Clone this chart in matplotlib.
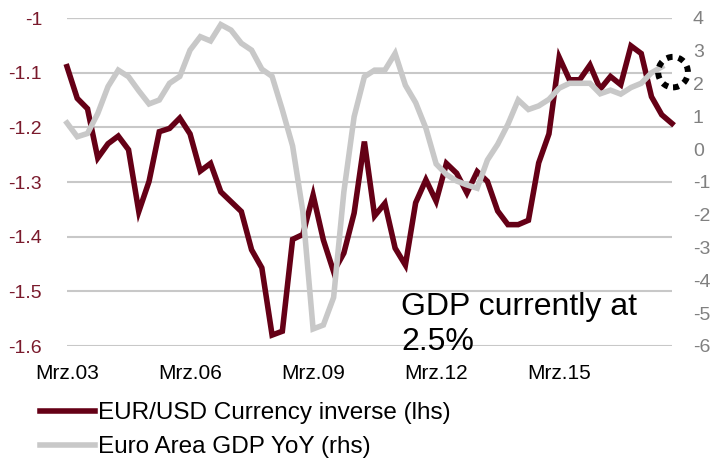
import matplotlib
matplotlib.use('Agg')
import matplotlib.pyplot as plt
import numpy as np
from matplotlib.patches import Ellipse
from matplotlib.lines import Line2D

plt.rcParams['font.family'] = ['Liberation Sans', 'DejaVu Sans']

# ---- data (quarterly, Mar 2003 .. Dec 2017) ----
eurusd_inverse = [
    -1.089, -1.147, -1.166, -1.256, -1.230, -1.216, -1.241, -1.354, -1.299, -1.208,
    -1.202, -1.183, -1.212, -1.280, -1.266, -1.318, -1.336, -1.354, -1.424, -1.457,
    -1.580, -1.573, -1.405, -1.396, -1.324, -1.406, -1.464, -1.430, -1.357, -1.226,
    -1.362, -1.339, -1.421, -1.452, -1.338, -1.296, -1.335, -1.266, -1.284, -1.320,
    -1.281, -1.299, -1.353, -1.378, -1.378, -1.370, -1.265, -1.212, -1.072, -1.113,
    -1.113, -1.086, -1.130, -1.107, -1.122, -1.051, -1.065, -1.144, -1.177, -1.193,
]
gdp_yoy = [
    0.80, 0.38, 0.48, 1.09, 1.91, 2.41, 2.21, 1.78, 1.38, 1.50,
    2.01, 2.22, 3.02, 3.43, 3.30, 3.80, 3.63, 3.23, 3.02, 2.44,
    2.22, 1.20, 0.10, -1.90, -5.48, -5.36, -4.52, -1.30, 0.99, 2.21,
    2.41, 2.41, 2.92, 1.95, 1.42, 0.64, -0.45, -0.77, -0.97, -1.09,
    -1.19, -0.33, 0.15, 0.76, 1.50, 1.21, 1.32, 1.52, 1.86, 2.01,
    2.01, 2.01, 1.69, 1.80, 1.68, 1.88, 2.01, 2.33, 2.51,
]
xtick_pos = [0, 12, 24, 36, 48]
xtick_labels = ['Mrz.03', 'Mrz.06', 'Mrz.09', 'Mrz.12', 'Mrz.15']
left_ticks = [-1.6, -1.5, -1.4, -1.3, -1.2, -1.1, -1.0]
left_labels = ['-1.6', '-1.5', '-1.4', '-1.3', '-1.2', '-1.1', '-1']
right_ticks = [-6, -5, -4, -3, -2, -1, 0, 1, 2, 3, 4]
series_labels = ['EUR/USD Currency inverse (lhs)', 'Euro Area GDP YoY (rhs)']
annotation = 'GDP currently at\n2.5%'

MAROON = '#650016'
GREY = '#c8c8c8'

W, H = 724, 461
fig = plt.figure(figsize=(W / 100, H / 100), dpi=100)
ax = fig.add_axes([67 / W, 1 - 346 / H, (672 - 67) / W, (346 - 18) / H])
ax2 = ax.twinx()

ax.set_xlim(0, 59)
ax.set_ylim(-1.6, -1.0)
ax2.set_ylim(-6, 4)

for a in (ax, ax2):
    for s in a.spines.values():
        s.set_visible(False)

ax.set_yticks(left_ticks)
ax.set_yticklabels(left_labels)
ax.grid(axis='y', color=GREY, lw=1.5)
ax.set_axisbelow(True)
ax.axhline(-1.0, color='#9a9a9a', lw=1.5, zorder=0.5)

ax.tick_params(axis='y', length=0, pad=18, labelsize=14, labelcolor='#7a1a2c')
ax.set_xticks(xtick_pos)
ax.set_xticklabels(xtick_labels)
ax.tick_params(axis='x', length=0, pad=13, labelsize=15, labelcolor='black')

ax2.set_yticks(right_ticks)
ax2.set_yticklabels([str(t) for t in right_ticks])
ax2.tick_params(axis='y', length=0, pad=15, labelsize=14, labelcolor='#808080')

x1 = np.arange(len(eurusd_inverse))
x2 = np.arange(len(gdp_yoy))
l1, = ax.plot(x1, eurusd_inverse, color=MAROON, lw=4.0, solid_joinstyle='miter', clip_on=False)
l2, = ax2.plot(x2, gdp_yoy, color=GREY, lw=4.0, solid_joinstyle='miter', clip_on=False)

circ = Ellipse((59.1, 2.35), width=2.9, height=0.93, fill=False, edgecolor='black',
               lw=4.3, linestyle=(0, (1, 1.0)), clip_on=False, zorder=5)
ax2.add_patch(circ)

fig.text(401 / W, 1 - 292 / H, annotation, fontsize=23, color='black', va='top', ha='left',
         linespacing=1.2)

fig.legend([l1, l2], series_labels, loc='upper left', bbox_to_anchor=(40 / W, 1 - 402 / H),
           frameon=False, handlelength=2.25, handletextpad=0.12, labelspacing=0.5,
           borderpad=0, borderaxespad=0, fontsize=17.5)

fig.savefig('out.png', dpi=100)
